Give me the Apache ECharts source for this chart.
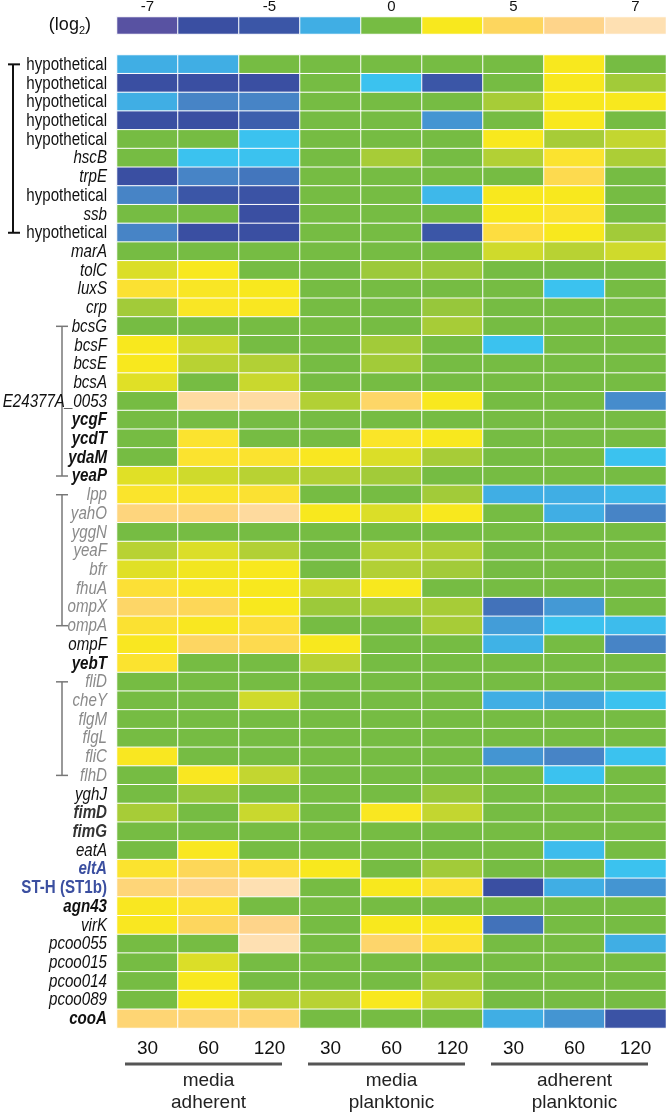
<!DOCTYPE html>
<html><head><meta charset="utf-8">
<script src="https://cdn.jsdelivr.net/npm/echarts@6/dist/echarts.min.js"></script>
<style>html,body{margin:0;padding:0;background:#fff;}#c{width:666px;height:1113px;}</style>
</head><body><div id="c"></div>
<script>
// ---------------- DATA ----------------
const genes = ['hypothetical','hypothetical','hypothetical','hypothetical','hypothetical','hscB','trpE','hypothetical','ssb','hypothetical',
  'marA','tolC','luxS','crp','bcsG','bcsF','bcsE','bcsA','E24377A_0053','ycgF','ycdT','ydaM','yeaP',
  'lpp','yahO','yggN','yeaF','bfr','fhuA','ompX','ompA','ompF','yebT',
  'fliD','cheY','flgM','flgL','fliC','flhD','yghJ','fimD','fimG','eatA','eltA','ST-H (ST1b)','agn43','virK',
  'pcoo055','pcoo015','pcoo014','pcoo089','cooA'];
const timepoints = ['30','60','120'];
const conditions = ['media\nadherent','media\nplanktonic','adherent\nplanktonic'];
const legendValues = [-7,-6,-5,-3,0,3,5,6,7];
const legendTicks = ['-7','','-5','','0','','5','','7'];
// log2 fold change, one row per gene: [30, 60, 120]
const mediaAdherent = [
  [-3,-3,0],[-6,-6,-6],[-3,-4,-4],[-6,-6,-4.8],[0,0,-2],[0,-2,-2],[-6,-4,-4.3],[-4,-5,-5.5],[0,0,-6],[-4,-6,-6],
  [0,0,0],[2.5,3,0],[3.6,3.2,3],[1.5,3.2,3.1],[0,0,0],[3,2.2,0],[3,1.9,1.8],[2.6,0,2.2],[0,6.6,6.6],[0,0,0],
  [0,3.5,0],[0,3.5,3.5],[2.6,2.3,1.9],[3.4,3.4,3.6],[5.7,5.7,6.5],[0,0,0],[1.9,2.5,1.8],[2.6,2.9,3],[3.7,3.2,3],
  [5.2,4.8,3],[3.6,3.1,3.8],[3.1,5.1,4.5],[3.5,0,0],[0,0,0],[0,0,2.3],[0,0,0],[0,0,0],[3.1,0,0],[0,3.1,2.1],
  [0,1.3,0],[1.6,0,2.2],[0,0,0],[0,3.1,0],[3.5,4.8,3.8],[5.6,6,7],[3.1,3.5,0],[3.1,5,6],[0,0,7],[0,2.5,0],
  [0,3,0],[0,3,1.9],[5.5,5.5,5.5]];
const mediaPlanktonic = [
  [0,0,0],[0,-2,-5],[0,0,0],[0,0,-3.6],[0,0,0],[0,1.6,0],[0,0,0],[0,0,-2.5],[0,0,0],[0,0,-5],
  [0,0,0],[0,1.4,1.4],[0,0,0],[0,0,1.3],[0,0,1.6],[0,1.5,0],[0,1.5,0],[0,0,0],[1.8,5.2,3],[0,0,0],
  [0,3.3,3],[3.1,2.5,1.6],[1.8,1.5,0],[0,0,1.5],[3,2.5,3],[0,0,0],[0,1.9,1.8],[0,1.8,1.5],[2.2,3,0],
  [1.4,1.6,1.6],[0,0,1.6],[3,0,0],[1.9,0,0],[0,0,0],[0,0,0],[0,0,0],[0,0,0],[0,0,0],[0,0,0],
  [0,0,1.3],[0,3.1,2.1],[0,0,0],[0,0,0],[3,0,1.5],[0,3,3.6],[0,0,0],[0,3,3.1],[0,5.3,3.6],[0,0,0],
  [0,0,1.5],[1.9,3,2.1],[0,0,0]];
const adherentPlanktonic = [
  [0,3,0],[0,3,1.5],[1.6,3,3],[0,3,0],[3,1.6,2.1],[1.8,3.5,1.7],[0,4.5,0],[3,3,0],[3,3.5,0],[4,3,1.5],
  [2.3,1.9,2.3],[0,0,0],[0,-2,0],[0,0,0],[0,0,0],[-2,0,0],[0,0,0],[0,0,0],[0,0,-3.8],[0,0,0],
  [0,0,0],[0,0,-2],[0,0,0],[-3,-3,-2.5],[0,-3,-4],[0,0,0],[0,0,0],[0,0,0],[0,0,0],
  [-4.4,-3.5,0],[-3.4,-2,-2.3],[-2.8,0,-4],[0,0,0],[0,0,0],[-3,-3.2,-2],[0,0,0],[0,0,0],[-3.6,-4,-2],[0,-2,0],
  [0,0,0],[0,0,0],[0,0,0],[0,-2.3,0],[0,0,-2],[-6,-3,-3.6],[0,0,0],[-4.4,0,0],[0,0,-3],[0,0,0],
  [0,0,0],[0,0,0],[-3,-3.6,-5.5]];
// gene groups marked with brackets (first and last gene index)
const brackets = [[0,9],[14,22],[23,30],[33,38]];

// ---------------- STYLE / LAYOUT ----------------
const FONT = "'Liberation Sans', Arial, Helvetica, sans-serif";
const GL = 117, GT = 55, GW = 549, GH = 973;
const styleOf = {
  n: ['hypothetical'],
  bi: ['ycgF','ycdT','ydaM','yeaP','yebT','agn43','cooA'],
  dbi: ['fimD','fimG'],
  gi: ['lpp','yahO','yggN','yeaF','bfr','fhuA','ompX','ompA','fliD','cheY','flgM','flgL','fliC','flhD'],
  ubi: ['eltA'],
  ub: ['ST-H (ST1b)']
};
const styleDefs = {
  n: {fontStyle: 'normal', fontWeight: 'normal', fill: '#111'},
  i: {fontStyle: 'italic', fontWeight: 'normal', fill: '#111'},
  bi: {fontStyle: 'italic', fontWeight: 'bold', fill: '#111'},
  dbi: {fontStyle: 'italic', fontWeight: 'bold', fill: '#333'},
  gi: {fontStyle: 'italic', fontWeight: 'normal', fill: '#8a8a8a'},
  ubi: {fontStyle: 'italic', fontWeight: 'bold', fill: '#3b4fa0'},
  ub: {fontStyle: 'normal', fontWeight: 'bold', fill: '#3b4fa0'}
};
function styleKey(g){
  for (const k in styleOf) if (styleOf[k].includes(g)) return k;
  return 'i';
}
const groups = [mediaAdherent, mediaPlanktonic, adherentPlanktonic];
const cols = [];
groups.forEach(() => timepoints.forEach(t => cols.push(t)));
const heat = [];
genes.forEach((g, r) => {
  groups.forEach((arr, gi) => {
    arr[r].forEach((v, k) => heat.push([gi * 3 + k, r, v]));
  });
});
const legendData = legendValues.map((v, i) => [i, 0, v]);

const chart = echarts.init(document.getElementById('c'), null, {renderer: 'canvas'});
chart.setOption({
  animation: false,
  backgroundColor: '#fff',
  textStyle: {fontFamily: FONT},
  grid: [
    {left: GL, top: GT, width: GW, height: GH, outerBoundsMode: 'none', containLabel: false},
    {left: GL, top: 17, width: GW, height: 17, outerBoundsMode: 'none', containLabel: false}
  ],
  visualMap: {
    type: 'continuous', show: false, min: -7, max: 7, seriesIndex: [0, 1],
    inRange: {color: ['#5852a2','#3a4fa2','#3b56a7','#4784c6','#40aee4','#3bc2ef','#70ba44','#76bc43','#86c13f','#bdd432','#f8e81e','#fddd40','#fdd65e','#fed48a','#fee0b2']}
  },
  xAxis: [
    {type: 'category', gridIndex: 0, data: cols, position: 'bottom',
     axisLine: {show: false}, axisTick: {show: false}, splitLine: {show: false},
     axisLabel: {interval: 0, margin: 11, fontSize: 19, color: '#111', fontFamily: FONT}},
    {type: 'category', gridIndex: 1, data: legendTicks, position: 'top',
     axisLine: {show: false}, axisTick: {show: false},
     axisLabel: {interval: 0, margin: 3, fontSize: 15, color: '#111', fontFamily: FONT}},
    {type: 'category', gridIndex: 0, data: conditions, position: 'bottom',
     axisLine: {show: false}, axisTick: {show: false},
     axisLabel: {interval: 0, margin: 42, fontSize: 19, lineHeight: 22, color: '#222', fontFamily: FONT}}
  ],
  yAxis: [
    {type: 'category', gridIndex: 0, inverse: true, data: genes.map((g, i) => String(i)),
     axisLine: {show: false}, axisTick: {show: false}, splitLine: {show: false},
     axisLabel: {show: false}},
    {type: 'category', gridIndex: 1, data: ['log'],
     axisLine: {show: false}, axisTick: {show: false},
     axisLabel: {margin: 26, formatter: () => '{a|(log}{s|2}{a|)}',
       rich: {a: {fontSize: 18, fontFamily: FONT, color: '#111', lineHeight: 22},
              s: {fontSize: 11, fontFamily: FONT, color: '#111', lineHeight: 22, verticalAlign: 'bottom', padding: [8, 0, 0, 0]}}}}
  ],
  series: [
    {type: 'heatmap', xAxisIndex: 0, yAxisIndex: 0, data: heat,
     itemStyle: {borderColor: '#fff', borderWidth: 1}, emphasis: {disabled: true}},
    {type: 'heatmap', xAxisIndex: 1, yAxisIndex: 1, data: legendData,
     itemStyle: {borderColor: '#fff', borderWidth: 1}, emphasis: {disabled: true}}
  ]
});

// gene labels (condensed), brackets and group underlines, positioned from the axes
const els = [];
const colW = GW / cols.length;
genes.forEach((g, i) => {
  const y = chart.convertToPixel({yAxisIndex: 0}, i);
  const s = styleDefs[styleKey(g)];
  els.push({type: 'text', x: GL - 10, y: y + 0.5, scaleX: 0.84, silent: true,
    style: {text: g, fontFamily: FONT, fontSize: 18, fontStyle: s.fontStyle, fontWeight: s.fontWeight,
      fill: s.fill, align: 'right', verticalAlign: 'middle'}});
});
brackets.forEach((b, bi) => {
  const y1 = chart.convertToPixel({yAxisIndex: 0}, b[0]);
  const y2 = chart.convertToPixel({yAxisIndex: 0}, b[1]);
  const x = bi === 0 ? 13 : 62, t0 = bi === 0 ? 8 : 56, t1 = bi === 0 ? 20 : 68;
  const st = bi === 0 ? {stroke: '#111', lineWidth: 2} : {stroke: '#777', lineWidth: 1.5};
  els.push({type: 'line', z: -1, shape: {x1: x, y1: y1, x2: x, y2: y2}, style: st});
  els.push({type: 'line', z: -1, shape: {x1: t0, y1: y1, x2: t1, y2: y1}, style: st});
  els.push({type: 'line', z: -1, shape: {x1: t0, y1: y2, x2: t1, y2: y2}, style: st});
});
conditions.forEach((c, gi) => {
  const left = chart.convertToPixel({xAxisIndex: 0}, gi * 3) - colW / 2;
  const right = chart.convertToPixel({xAxisIndex: 0}, gi * 3 + 2) + colW / 2;
  els.push({type: 'line', shape: {x1: left + 8, y1: 1064, x2: right - 18, y2: 1064},
    style: {stroke: '#555', lineWidth: 3}});
});
chart.setOption({graphic: {elements: els}});
</script></body></html>
